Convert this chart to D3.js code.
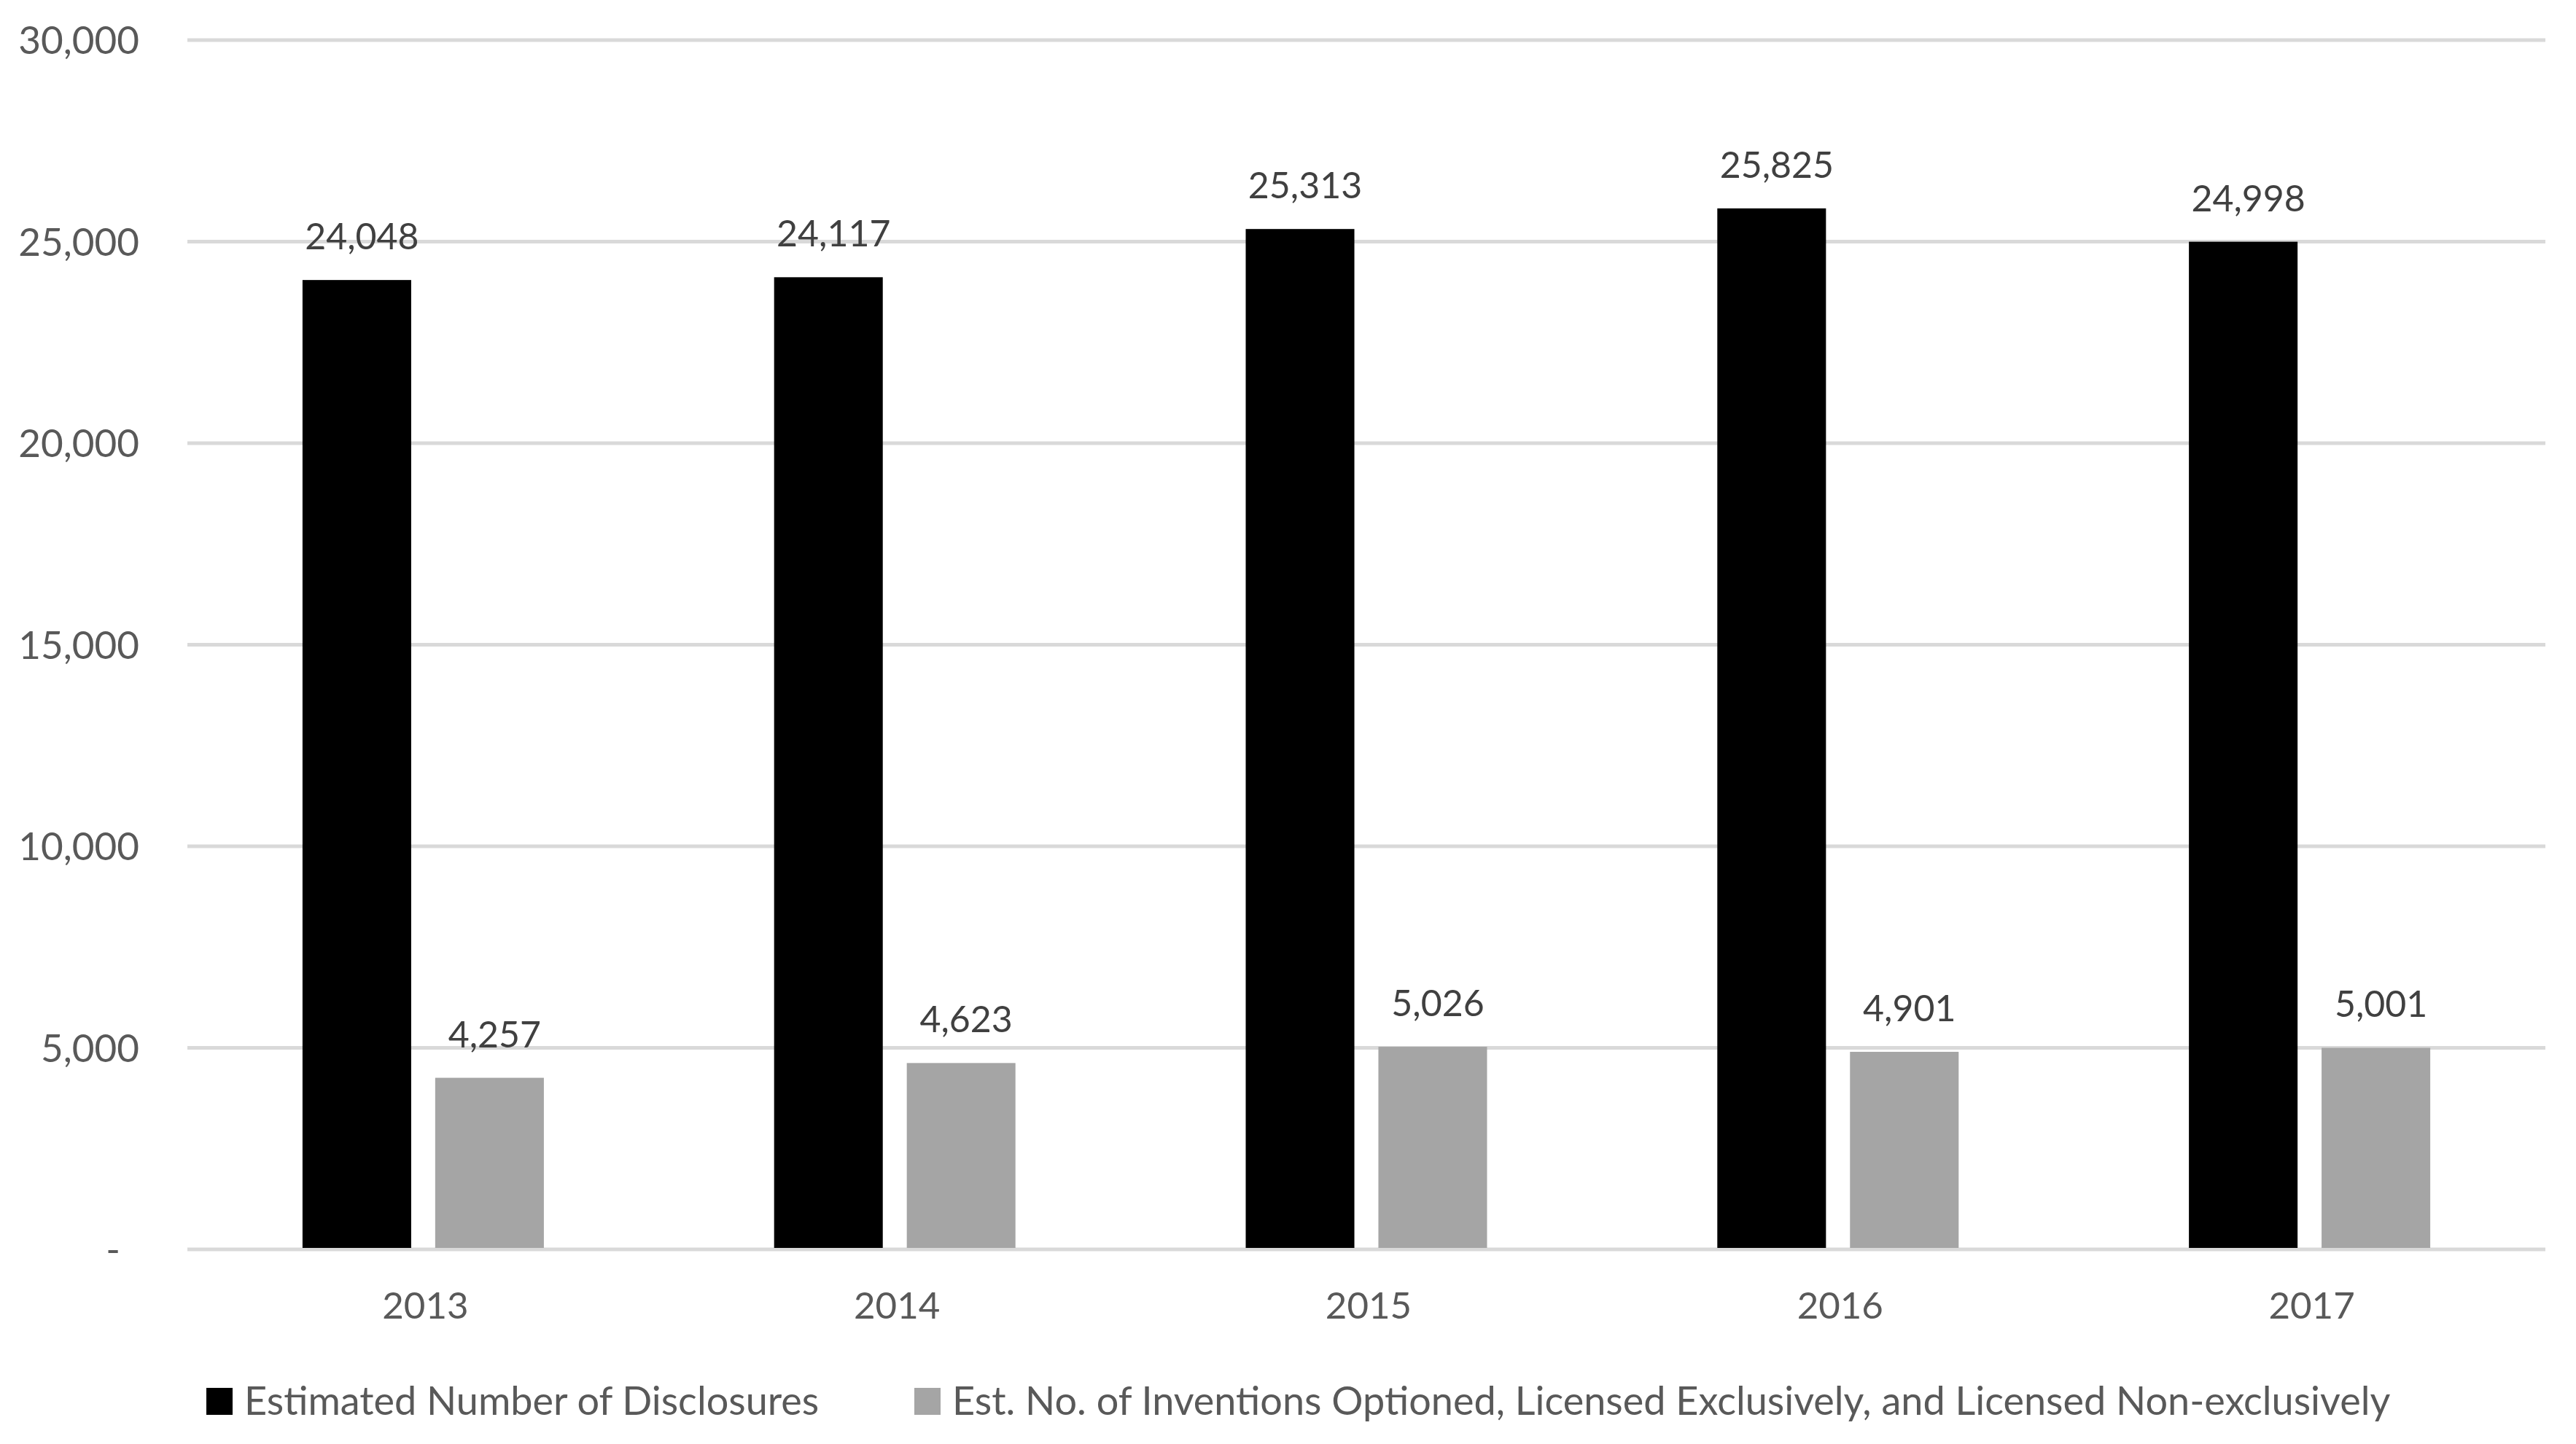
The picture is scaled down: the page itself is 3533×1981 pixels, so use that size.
<!DOCTYPE html>
<html>
<head>
<meta charset="utf-8">
<script src="https://cdn.jsdelivr.net/npm/d3@7"></script>
<style>
  html, body { margin: 0; padding: 0; background: #fff; }
  svg { display: block; font-family: Lato, "Open Sans", sans-serif; }
</style>
</head>
<body>
<script>
// chart data
var years = ["2013", "2014", "2015", "2016", "2017"];
var seriesNames = [
  "Estimated Number of Disclosures",
  "Est. No. of Inventions Optioned, Licensed Exclusively, and Licensed Non-exclusively"
];
var disclosures = [24048, 24117, 25313, 25825, 24998];
var inventions = [4257, 4623, 5026, 4901, 5001];
var yTicks = [0, 5000, 10000, 15000, 20000, 25000, 30000];
var colors = ["#000000", "#a5a5a5"];

var w = 3533, h = 1981;
var plotL = 257, plotR = 3491, plotT = 55, plotB = 1714;

var svg = d3.select("body").append("svg")
  .attr("width", w)
  .attr("height", h);

var y = d3.scaleLinear().domain([0, 30000]).range([plotB, plotT]);
var x0 = d3.scaleBand().domain(years).range([plotL, plotR]).padding(0);
var groupW = 331;
var x1 = d3.scaleBand().domain([0, 1]).range([-groupW / 2, groupW / 2]).paddingInner(0.181);

var fmt = d3.format(",");

// gridlines
svg.append("g").selectAll("line")
  .data(yTicks)
  .enter()
  .append("line")
  .attr("x1", plotL)
  .attr("x2", plotR)
  .attr("y1", function (d) { return y(d); })
  .attr("y2", function (d) { return y(d); })
  .attr("stroke", "#d9d9d9")
  .attr("stroke-width", 5);

// y axis labels
svg.append("g").selectAll("text")
  .data(yTicks)
  .enter()
  .append("text")
  .text(function (d) { return d === 0 ? "-" : fmt(d); })
  .attr("x", function (d) { return d === 0 ? 155 : 191; })
  .attr("y", function (d) { return y(d) + 19; })
  .attr("text-anchor", function (d) { return d === 0 ? "middle" : "end"; })
  .attr("font-size", "53px")
  .attr("fill", "#595959");

// bars
var rows = years.map(function (yr, i) {
  return { year: yr, vals: [disclosures[i], inventions[i]] };
});

var groups = svg.selectAll("g.grp")
  .data(rows)
  .enter()
  .append("g")
  .attr("class", "grp")
  .attr("transform", function (d) {
    return "translate(" + (x0(d.year) + x0.bandwidth() / 2) + ",0)";
  });

groups.selectAll("rect")
  .data(function (d) { return d.vals; })
  .enter()
  .append("rect")
  .attr("x", function (d, i) { return x1(i); })
  .attr("y", function (d) { return y(d); })
  .attr("width", x1.bandwidth())
  .attr("height", function (d) { return plotB - 2 - y(d); })
  .attr("fill", function (d, i) { return colors[i]; });

// value labels
groups.selectAll("text")
  .data(function (d) { return d.vals; })
  .enter()
  .append("text")
  .text(function (d) { return fmt(d); })
  .attr("x", function (d, i) { return x1(i) + x1.bandwidth() / 2 + 7; })
  .attr("y", function (d) { return y(d) - 42; })
  .attr("text-anchor", "middle")
  .attr("font-size", "50px")
  .attr("fill", "#404040");

// x axis labels
svg.append("g").selectAll("text")
  .data(years)
  .enter()
  .append("text")
  .text(function (d) { return d; })
  .attr("x", function (d) { return x0(d) + x0.bandwidth() / 2 + 3; })
  .attr("y", 1809)
  .attr("text-anchor", "middle")
  .attr("font-size", "51px")
  .attr("fill", "#595959");

// legend
var legendX = [283, 1254];
var legend = svg.append("g").selectAll("g")
  .data(seriesNames)
  .enter()
  .append("g");

legend.append("rect")
  .attr("x", function (d, i) { return legendX[i]; })
  .attr("y", 1904)
  .attr("width", 36)
  .attr("height", 37)
  .attr("fill", function (d, i) { return colors[i]; });

legend.append("text")
  .text(function (d) { return d; })
  .attr("x", function (d, i) { return legendX[i] + 52; })
  .attr("y", 1941)
  .attr("font-size", "54px")
  .attr("fill", "#595959");
</script>
</body>
</html>
